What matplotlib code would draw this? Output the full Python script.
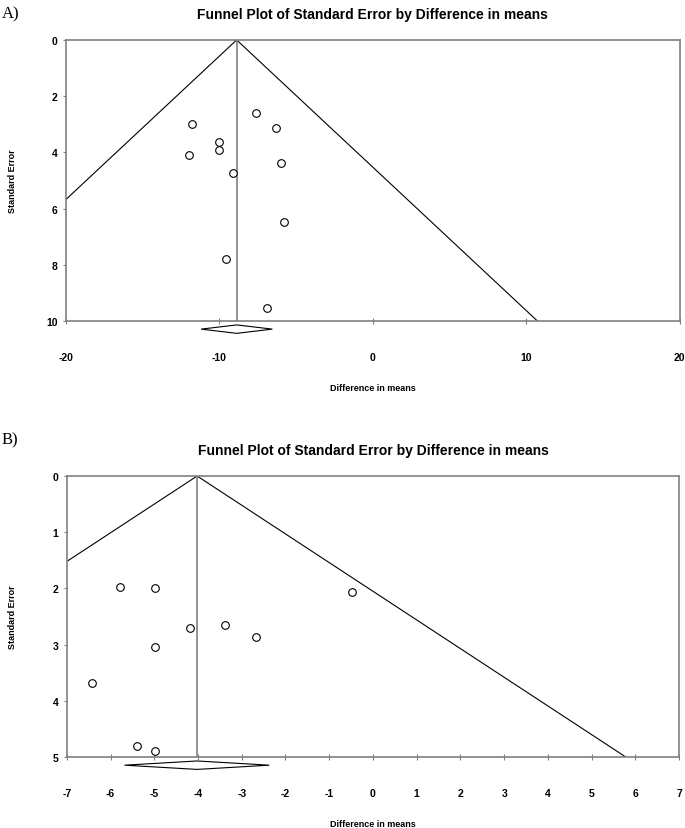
#!/usr/bin/env python3
"""Two funnel plots (standard error vs difference in means), panels A and B."""

import matplotlib
matplotlib.use("Agg")
import matplotlib.pyplot as plt
from matplotlib.patches import Polygon
from matplotlib.transforms import blended_transform_factory

OUTPUT_PATH = "out.png"

# Panel A: study effects and standard errors
A_DIFF = [-11.8, -10.0, -10.0, -12.0, -9.1, -7.6, -6.3, -6.0, -5.8, -9.6, -6.9]
A_SE = [2.98, 3.63, 3.90, 4.09, 4.74, 2.59, 3.13, 4.38, 6.48, 7.79, 9.53]
A_POOLED = -8.88
A_CI = (-11.2, -6.55)
A_XTICKS = [-20, -10, 0, 10, 20]
A_YTICKS = [0, 2, 4, 6, 8, 10]

# Panel B
B_DIFF = [-5.79, -4.99, -0.48, -4.19, -3.38, -2.68, -4.99, -6.43, -5.40, -4.98]
B_SE = [1.97, 1.99, 2.07, 2.70, 2.65, 2.86, 3.05, 3.69, 4.80, 4.89]
B_POOLED = -4.02
B_CI = (-5.68, -2.37)
B_XTICKS = list(range(-7, 8))
B_YTICKS = [0, 1, 2, 3, 4, 5]

TITLE = "Funnel Plot of Standard Error by Difference in means"
Z = 1.96
SANS = "Liberation Sans"
SERIF = "Liberation Serif"
FRAME = "#808080"

plt.rcParams["axes.unicode_minus"] = False


def funnel_panel(fig, rect, diffs, ses, pooled, ci, xticks, yticks, letter, letter_y):
    ax = fig.add_axes(rect)
    se_max = yticks[-1]
    ax.set_xlim(xticks[0], xticks[-1])
    ax.set_ylim(se_max, 0)

    ax.plot([pooled - Z * se_max, pooled, pooled + Z * se_max], [se_max, 0, se_max],
            color="black", linewidth=0.8)
    ax.axvline(pooled, color=FRAME, linewidth=1.2)
    ax.plot(diffs, ses, linestyle="none", marker="o", markersize=5.5,
            markerfacecolor="white", markeredgecolor="black", markeredgewidth=0.8)

    # summary diamond just below the x axis
    trans = blended_transform_factory(ax.transData, ax.transAxes)
    yc, h = -0.029, 0.015
    diamond = Polygon([(ci[0], yc), (pooled, yc + h), (ci[1], yc), (pooled, yc - h)],
                      closed=True, facecolor="white", edgecolor="black",
                      linewidth=0.8, transform=trans, clip_on=False)
    ax.add_patch(diamond)

    for s in ax.spines.values():
        s.set_color(FRAME)
        s.set_linewidth(1.2)
    ax.set_xticks(xticks)
    ax.set_yticks(yticks)
    ax.tick_params(axis="x", direction="inout", length=5, width=0.8, color=FRAME, pad=20)
    ax.tick_params(axis="y", direction="out", length=2, width=0.8, color=FRAME, pad=4)
    for lab in ax.get_xticklabels() + ax.get_yticklabels():
        lab.set_fontfamily(SANS)
        lab.set_fontweight("bold")
        lab.set_fontsize(7.5)

    ax.set_xlabel("Difference in means", fontfamily=SANS, fontweight="bold",
                  fontsize=6.5, va="center")
    ax.xaxis.set_label_coords(0.5, -0.238)
    ax.set_ylabel("Standard Error", fontfamily=SANS, fontweight="bold",
                  fontsize=6.5, va="center")
    ax.yaxis.set_label_coords(-0.088, 0.5)
    ax.set_title(TITLE, fontfamily=SANS, fontweight="bold", fontsize=10, pad=16)
    fig.text(0.002, letter_y, letter, fontfamily=SERIF, fontsize=12, va="center", ha="left")
    return ax


def main():
    fig = plt.figure(figsize=(6.85, 8.29), dpi=100)
    funnel_panel(fig, [0.0964, 0.6116, 0.896, 0.339], A_DIFF, A_SE, A_POOLED, A_CI,
                 A_XTICKS, A_YTICKS, "A)", 1 - 14 / 829)
    funnel_panel(fig, [0.0975, 0.0856, 0.894, 0.339], B_DIFF, B_SE, B_POOLED, B_CI,
                 B_XTICKS, B_YTICKS, "B)", 1 - 440 / 829)
    fig.savefig(OUTPUT_PATH, dpi=100)


if __name__ == "__main__":
    main()
